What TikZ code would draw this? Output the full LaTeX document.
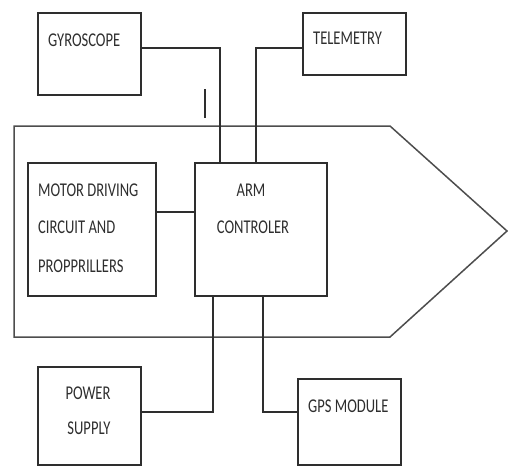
\documentclass[tikz,border=0pt]{standalone}
\usepackage{fontspec}
\setmainfont{Carlito}
\definecolor{ink}{HTML}{2E2E2E}
\begin{document}
\begin{tikzpicture}[x=1pt,y=-1pt,
  box/.style={draw=ink,line width=1.2pt,rectangle,inner sep=0pt},
  lbl/.style={text=ink,font=\fontsize{15}{18}\selectfont,inner sep=0pt,xscale=0.97,yscale=1.3},
  wire/.style={draw=ink,line width=1.1pt},
  hull/.style={draw=ink!85,line width=1.5pt,line join=miter}]
\useasboundingbox (0,0) rectangle (508,466);
% hull
\draw[hull] (14,126) -- (390,126) -- (507,231) -- (390,337) -- (14,337) -- cycle;
% boxes
\node[box,minimum width=103pt,minimum height=82pt] (gyro) at (89.5,54) {};
\node[box,minimum width=103pt,minimum height=62pt] (tele) at (354.5,44) {};
\node[box,minimum width=128pt,minimum height=133pt] (motor) at (92,229.5) {};
\node[box,minimum width=132pt,minimum height=133pt] (arm) at (261,229.5) {};
\node[box,minimum width=103pt,minimum height=98pt] (power) at (89.5,416) {};
\node[box,minimum width=103pt,minimum height=86pt] (gps) at (349.5,422) {};
% labels
\node[lbl,anchor=west] (tgyro) at (48,40) {GYROSCOPE};
\node[lbl,anchor=west] (ttele) at (313,38) {TELEMETRY};
\node[lbl,anchor=west] (tm1) at (38,190) {MOTOR DRIVING};
\node[lbl,anchor=west] (tm2) at (38,227) {CIRCUIT AND};
\node[lbl,anchor=west] (tm3) at (38,266) {PROPPRILLERS};
\node[lbl] (ta1) at (251,190) {ARM};
\node[lbl] (ta2) at (253,227) {CONTROLER};
\node[lbl] (tp1) at (88,393) {POWER};
\node[lbl] (tp2) at (89,428) {SUPPLY};
\node[lbl,anchor=west] (tg) at (308,406) {GPS MODULE};
% connectors
\draw[wire] ([yshift=6pt]gyro.east) -| ([xshift=-41pt]arm.north);
\draw[wire] ([yshift=-4pt]tele.west) -| ([xshift=-5pt]arm.north);
\draw[wire] ([yshift=17.5pt]motor.east) -- ([yshift=17.5pt]arm.west);
\draw[wire] ([xshift=-48pt]arm.south) |- ([yshift=4pt]power.east);
\draw[wire] ([xshift=2pt]arm.south) |- ([yshift=10pt]gps.west);
% small mark
\coordinate (m1) at (205,89);
\coordinate (m2) at (205,118);
\draw[ink,line width=1.6pt] (m1) -- (m2);
\end{tikzpicture}
\end{document}
